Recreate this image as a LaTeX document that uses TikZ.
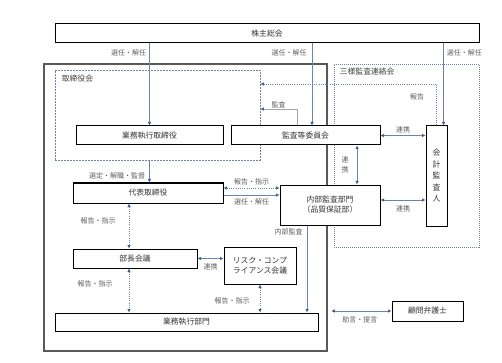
\documentclass[tikz,border=0pt]{standalone}
\usepackage{fontspec}
\newfontfamily\cjk{Noto Sans CJK JP}
\usepackage{tikz}
\usetikzlibrary{arrows.meta}
\definecolor{lineblue}{HTML}{6A84AD}
\definecolor{tipblue}{HTML}{3B5B8E}
\definecolor{lbltext}{HTML}{5E5E5E}
\definecolor{framegray}{HTML}{595959}
\tikzset{
  box/.style={draw=black, line width=1pt, fill=white, inner sep=0pt, text=black!80,
    font=\cjk\fontsize{7.8}{10}\selectfont},
  grp/.style={draw=lineblue, line width=0.7pt, inner sep=0pt},
  frame/.style={draw=framegray, line width=2.5pt, inner sep=0pt},
  grptxt/.style={text=black!75, inner sep=1pt, font=\cjk\fontsize{7.8}{9}\selectfont},
  conn/.style={draw=lineblue, line width=0.6pt},
  dotline/.style={dash pattern=on 1pt off 1.2pt},
  auditline/.style={draw=black!35, line width=0.6pt},
  lbl/.style={text=lbltext, inner sep=1pt, font=\cjk\fontsize{7}{9}\selectfont},
}

\begin{document}
\begin{tikzpicture}[x=1pt, y=-1pt, >={Latex[length=3.5pt,width=3.5pt,color=tipblue]}]
      \useasboundingbox (0,0) rectangle (502,363);

      \node[frame, minimum width=283, minimum height=287] (waku) at (185.5,207.5) {};
      \node[grp, dash pattern=on 2pt off 1pt, minimum width=205, minimum height=90] (torikai) at (157.5,115) {};
      \node[grp, dash pattern=on 1pt off 1pt, minimum width=145, minimum height=183] (sanyo) at (406.5,155.5) {};
      \node[grptxt, anchor=west] at ([xshift=6,yshift=-9]torikai.north west) {取締役会};
      \node[grptxt, anchor=west] at ([xshift=5,yshift=-8]sanyo.north west) {三様監査連絡会};

      \node[box, minimum width=424, minimum height=19] (soukai) at (267,33.5) {株主総会};
      \node[box, minimum width=147, minimum height=19] (gyomutori) at (149.5,135.5) {業務執行取締役};
      \node[box, minimum width=149, minimum height=19] (kansa) at (305.5,135.5) {監査等委員会};
      \node[box, minimum width=21, minimum height=100, align=center,
        font=\cjk\fontsize{7.8}{11.5}\selectfont] (kaikei) at (436.5,176) {会\\計\\監\\査\\人};
      \node[box, minimum width=150, minimum height=20] (daihyo) at (148,193) {代表取締役};
      \node[box, minimum width=100, minimum height=40, align=center] (naibu) at (330,205) {内部監査部門\\（品質保証部）};
      \node[box, minimum width=124, minimum height=19] (bucho) at (135,258.5) {部長会議};
      \node[box, minimum width=72, minimum height=37, align=center] (risk) at (260,265.5) {リスク・コンプ\\ライアンス会議};
      \node[box, minimum width=263, minimum height=18] (gyomubu) at (186.5,322) {業務執行部門};
      \node[box, minimum width=71, minimum height=20] (komon) at (427.5,311) {顧問弁護士};

      \coordinate (kin) at ([xshift=6.5]kansa.north);
      \coordinate (kai) at ([xshift=-4]kaikei.north east);
      \coordinate (kn) at ([xshift=-8.5]kansa.north);
      \coordinate (bx) at ([xshift=-6]bucho.north);
      \coordinate (rx) at ([xshift=27]naibu.north);
      \coordinate (nx) at ([xshift=-23]naibu.south);

      \draw[conn, ->] (soukai.south -| gyomutori.north) -- node[lbl, left=2pt, pos=0.11] {選任・解任} (gyomutori.north);
      \draw[conn, ->] (soukai.south -| kin) -- node[lbl, left=4pt, pos=0.11] {選任・解任} (kin);
      \draw[conn, ->] (soukai.south -| kai) -- node[lbl, right=2pt, pos=0.11] {選任・解任} (kai);

      \draw[conn, dotline, ->] (kaikei.north) |- node[lbl, left=11pt, pos=0.35] {報告} ([yshift=31]torikai.east);
      \draw[auditline, ->] (kn) |- node[lbl, above, pos=0.75] {監査} ([yshift=6]torikai.east);

      \draw[conn, ->] (torikai.south -| gyomutori.south) -- node[lbl, left=3pt, pos=0.7] {選定・解職・監督} (daihyo.north -| gyomutori.south);
      \draw[conn, dotline, <->] (daihyo.south -| bx) -- node[lbl, left=12pt, pos=0.39] {報告・指示} (bx);
      \draw[conn, dotline, <->] (bucho.south -| bx) -- node[lbl, left=15pt, pos=0.36] {報告・指示} (gyomubu.north -| bx);
      \draw[conn, <->] (bucho.east) -- node[lbl, below=4pt] {連携} (bucho.east -| risk.west);
      \draw[conn, dotline, <->] (risk.south) -- node[lbl, left=9pt, pos=0.58] {報告・指示} (risk.south |- gyomubu.north);

      \draw[conn, dotline, <->] ([yshift=5]daihyo.east) -- node[lbl, above=2pt] {報告・指示} ([yshift=5]daihyo.east -| naibu.west);
      \draw[conn, ->] ([yshift=-2]daihyo.east) -- node[lbl, below=2pt] {選任・解任} ([yshift=-2]daihyo.east -| naibu.west);

      \draw[conn, <->] (kansa.south -| rx) -- node[lbl, left=7pt, align=center, font=\cjk\fontsize{7}{10}\selectfont] {連\\携} (rx);
      \draw[conn, <->] (kansa.east) -- node[lbl, above=1pt] {連携} (kansa.east -| kaikei.west);
      \draw[conn, <->] ([yshift=5]naibu.east) -- node[lbl, below=4pt] {連携} ([yshift=5]naibu.east -| kaikei.west);
      \draw[conn, ->] (nx) -- node[lbl, left=3pt, pos=0.07] {内部監査} (nx |- gyomubu.north);

      \draw[conn, <->, shorten <=3pt] (komon.west -| waku.east) -- node[lbl, below=4pt] {助言・提言} (komon.west);
    \end{tikzpicture}
\end{document}
